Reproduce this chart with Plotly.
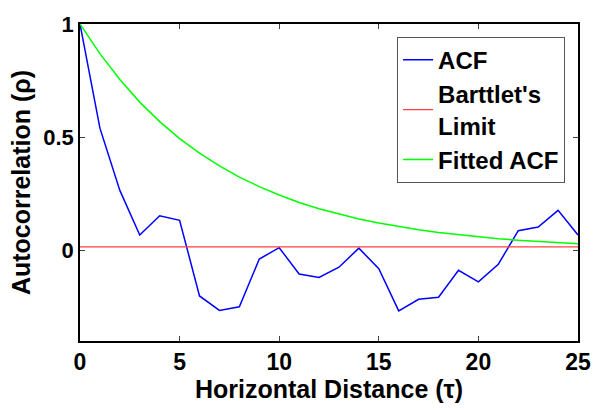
import plotly.graph_objects as go

lags = list(range(26))
acf = [1.0, 0.54, 0.265, 0.068, 0.153, 0.133, -0.201, -0.265, -0.249, -0.038,
       0.012, -0.104, -0.119, -0.074, 0.010, -0.081, -0.267, -0.216, -0.207, -0.088,
       -0.139, -0.061, 0.087, 0.103, 0.177, 0.068]
fitted = [1.0, 0.869, 0.755, 0.655, 0.569, 0.494, 0.430, 0.373, 0.324, 0.282,
          0.245, 0.212, 0.184, 0.160, 0.139, 0.121, 0.105, 0.091, 0.079, 0.069,
          0.060, 0.052, 0.045, 0.039, 0.034, 0.030]
bartlett = 0.016
x_ticks = [0, 5, 10, 15, 20, 25]
y_ticks = [0, 0.5, 1]
y_tick_text = ["0", "0.5", "1"]

FONT = "Liberation Sans, Arial, sans-serif"

fig = go.Figure()
fig.add_trace(go.Scatter(x=lags, y=acf, mode="lines", name="ACF",
                         line=dict(color="#0000ff", width=1.5)))
fig.add_trace(go.Scatter(x=[lags[0], lags[-1]], y=[bartlett, bartlett], mode="lines",
                         name="Barttlet's<br>Limit",
                         line=dict(color="#ff4040", width=1.2)))
fig.add_trace(go.Scatter(x=lags, y=fitted, mode="lines", name="Fitted ACF",
                         line=dict(color="#00ff00", width=1.5)))

fig.update_layout(
    width=603, height=410,
    margin=dict(l=80, r=23, t=18, b=69),
    paper_bgcolor="white", plot_bgcolor="white",
    font=dict(family=FONT, color="black", weight="bold"),
    showlegend=True,
    legend=dict(x=0.974, y=0.96, xanchor="right", yanchor="top",
                bordercolor="#555555", borderwidth=1, bgcolor="white",
                font=dict(family=FONT, size=24, color="black", weight="bold"),
                itemwidth=30, tracegroupgap=0),
    xaxis=dict(range=[0, 25], tickvals=x_ticks, ticks="inside", ticklen=5,
               showline=True, linecolor="black", linewidth=1.5, mirror="ticks",
               showgrid=False, zeroline=False,
               tickfont=dict(family=FONT, size=23, weight="bold"),
               title=dict(text="Horizontal Distance (τ)", standoff=3,
                          font=dict(family=FONT, size=25, weight="bold"))),
    yaxis=dict(range=[-0.4, 1], tickvals=y_ticks, ticktext=y_tick_text,
               ticks="inside", ticklen=5,
               showline=True, linecolor="black", linewidth=1.5, mirror="ticks",
               showgrid=False, zeroline=False,
               tickfont=dict(family=FONT, size=22, weight="bold"),
               title=dict(text="Autocorrelation (ρ)", standoff=6,
                          font=dict(family=FONT, size=25, weight="bold"))),
)

fig.write_html("out.html")
